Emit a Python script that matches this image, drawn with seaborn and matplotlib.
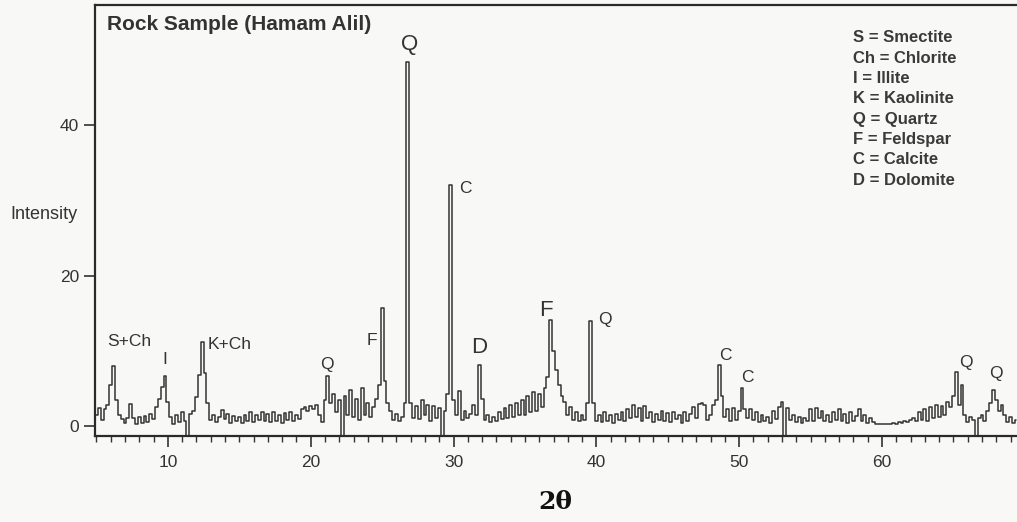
import numpy as np
import pandas as pd
import matplotlib
matplotlib.use("Agg")
import matplotlib.pyplot as plt
import seaborn as sns
from matplotlib.ticker import MultipleLocator

# ---------------- data (2-theta scan, 0.2 deg step starting at 5.0 deg) ----------------
scan_start = 5.0
scan_step = 0.2
seg_05_10 = [1.5, 2.4, 0.8, 2.2, 2.8, 5.5, 8.0, 3.5, 1.5, 0.9, 0.4, 1.0, 2.9, 1.0, 0.3,
             1.2, 0.4, 1.3, 0.5, 1.6, 0.9, 2.5, 3.6, 5.2, 6.6]
seg_10_15 = [3.2, 1.2, 0.3, 1.5, 0.5, 1.8, 0.7, -1.3, 1.6, 2.0, 3.8, 6.8, 11.2, 7.0, 3.0,
             0.8, 1.5, 0.5, 1.2, 2.1, 0.9, 1.6, 0.4, 1.3, 0.6]
seg_15_20 = [1.2, 0.4, 1.5, 0.7, 1.8, 0.5, 1.4, 0.8, 1.9, 0.6, 1.6, 0.5, 1.8, 0.7, 1.5,
             0.4, 1.7, 0.8, 1.9, 0.6, 1.4, 0.9, 2.2, 2.5, 2.0]
seg_20_25 = [2.6, 2.3, 2.8, 1.5, 0.5, 3.5, 6.6, 3.0, 4.2, 1.8, 3.5, -1.3, 4.0, 1.5, 4.8,
             1.2, 3.6, 0.8, 5.0, 1.5, 3.0, 1.2, 2.5, 3.6, 5.5]
seg_25_30 = [15.7, 6.0, 3.0, 2.0, 0.8, 1.6, 0.7, 1.2, 3.0, 48.4, 3.0, 1.0, 2.6, 0.9, 3.4,
             1.4, 2.8, 0.7, 2.6, 1.1, 2.4, -1.3, 2.0, 4.2, 32.0]
seg_30_35 = [3.5, 1.5, 4.6, 0.8, 2.0, 1.0, 1.6, 2.8, 1.4, 8.1, 3.6, 0.8, 1.4, 0.5, 1.2,
             0.6, 1.8, 0.9, 2.4, 1.0, 2.8, 1.2, 3.0, 1.4, 3.5]
seg_35_40 = [1.5, 4.0, 1.8, 4.5, 2.0, 4.2, 2.5, 5.0, 6.5, 14.1, 10.0, 7.5, 5.5, 4.0, 3.2,
             1.5, 2.5, 0.8, 1.8, 0.6, 1.5, 0.8, 3.0, 14.0, 3.0]
seg_40_45 = [0.6, 1.5, 0.5, 1.8, 0.7, 1.4, 0.4, 1.6, 0.8, 1.9, 0.6, 2.2, 1.0, 2.8, 1.2,
             2.4, 0.6, 2.6, 1.0, 1.8, 0.5, 1.6, 0.8, 2.0, 0.6]
seg_45_50 = [1.7, 0.5, 1.8, 0.9, 1.5, 0.4, 1.9, 0.7, 1.6, 2.5, 1.0, 2.9, 3.0, 2.8, 0.8,
             1.5, 2.8, 3.5, 8.1, 4.0, 1.2, 2.2, 0.6, 2.4, 0.8]
seg_50_55 = [2.0, 5.0, 2.2, 1.0, 2.3, 0.8, 1.8, 0.5, 1.5, 0.7, 1.2, 0.4, 2.0, 0.9, 2.5,
             3.2, -1.3, 2.4, 0.8, 1.4, 0.5, 1.2, 0.4, 1.0, 0.6]
seg_55_60 = [2.2, 0.7, 2.4, 1.0, 2.0, 0.6, 1.5, 0.5, 1.8, 0.8, 2.2, 0.6, 1.6, 0.4, 1.9,
             0.7, 1.3, 2.3, 0.6, 1.5, 0.4, 1.0, 0.5, 0.3, 0.2]
seg_60_65 = [0.3, 0.2, 0.3, 0.2, 0.4, 0.3, 0.5, 0.4, 0.6, 0.5, 0.8, 1.0, 0.6, 1.8, 0.8,
             2.2, 0.6, 2.5, 1.0, 2.8, 1.2, 2.6, 1.5, 3.2, 2.5]
seg_65_70 = [4.0, 7.2, 2.8, 5.5, 1.5, 0.5, 1.2, 0.8, -1.3, 1.0, 1.5, 0.7, 2.0, 3.0, 4.8,
             3.5, 2.0, 2.8, 1.5, 0.5, 1.2, 0.4, 0.8]

peak_labels = ["S+Ch", "I", "K+Ch", "Q", "F", "Q", "C", "D", "F", "Q", "C", "C", "Q", "Q"]
peak_label_x = [7.3, 9.8, 12.75, 21.1, 24.3, 26.9, 30.8, 31.8, 36.5, 40.6, 49.0, 50.6, 65.9, 68.0]
peak_label_y = [11.2, 8.8, 10.9, 8.2, 11.4, 50.8, 31.6, 10.4, 15.4, 14.1, 9.4, 6.5, 8.5, 7.0]
large_labels = [False, False, False, False, False, True, False, True, True, False, False, False, False, False]

legend_lines = ["S = Smectite", "Ch = Chlorite", "I = Illite", "K = Kaolinite",
                "Q = Quartz", "F = Feldspar", "C = Calcite", "D = Dolomite"]

title = "Rock Sample (Hamam Alil)"
y_label = "Intensity"
x_label = "2θ"
x_ticks = [10, 20, 30, 40, 50, 60]
y_ticks = [0, 20, 40]

# ---------------- build table ----------------
intensity = np.array(seg_05_10 + seg_10_15 + seg_15_20 + seg_20_25 + seg_25_30 + seg_30_35 +
                     seg_35_40 + seg_40_45 + seg_45_50 + seg_50_55 + seg_55_60 + seg_60_65 +
                     seg_65_70)
two_theta = np.round(scan_start + scan_step * np.arange(len(intensity)), 2)
df = pd.DataFrame({"two_theta": two_theta, "intensity": intensity})

# ---------------- plot ----------------
sns.set_theme(style="white")
plt.rcParams["font.family"] = ["Liberation Sans", "DejaVu Sans"]

W, H = 1017, 522
fig = plt.figure(figsize=(W / 100, H / 100), dpi=100)
fig.patch.set_facecolor("#f8f8f7")
ax = fig.add_axes([95 / W, (H - 436) / H, (W - 95) / W, (436 - 5) / H])
ax.set_facecolor("#f8f8f7")

sns.lineplot(data=df, x="two_theta", y="intensity", ax=ax, estimator=None,
             color="#333333", linewidth=1.1, drawstyle="steps-mid")

ax.set_xlim(4.9, 69.45)
ax.set_ylim(-1.33, 56)

ax.set_xticks(x_ticks)
ax.set_yticks(y_ticks)
ax.xaxis.set_minor_locator(MultipleLocator(1))
ax.tick_params(axis="both", which="major", direction="out", length=8, width=1.2,
               colors="#333333", labelsize=12.5, bottom=True, left=True)
ax.tick_params(axis="x", which="minor", direction="out", length=4, width=1.0,
               color="#333333", bottom=True)
ax.tick_params(axis="x", pad=6)
ax.set_xlabel("")
ax.set_ylabel("")

for side in ["left", "bottom", "top"]:
    ax.spines[side].set_visible(True)
    ax.spines[side].set_color("#2a2a2a")
    ax.spines[side].set_linewidth(1.6)
ax.spines["right"].set_visible(False)

# title inside the axes
ax.text(0.013, 0.955, title, transform=ax.transAxes, fontsize=15,
        fontweight="bold", color="#333333", ha="left", va="center")

# peak labels
for lab, lx, ly, big in zip(peak_labels, peak_label_x, peak_label_y, large_labels):
    ax.text(lx, ly, lab, fontsize=16 if big else 12.5, color="#333333",
            ha="left" if lab == "K+Ch" else "center", va="center")

# mineral key
for i, line in enumerate(legend_lines):
    fig.text(853 / W, 1 - (38 + i * 20.3) / H, line, fontsize=12, fontweight="bold",
             color="#3a3a3a", ha="left", va="center")

# axis labels
fig.text(10 / W, 1 - 215 / H, y_label, fontsize=13, color="#333333", ha="left", va="center")
fig.text(555 / W, 1 - 502 / H, x_label, fontsize=18, fontweight="bold",
         family=["DejaVu Serif"], color="#111111", ha="center", va="center")

fig.savefig("out.png", dpi=100, facecolor=fig.get_facecolor())
